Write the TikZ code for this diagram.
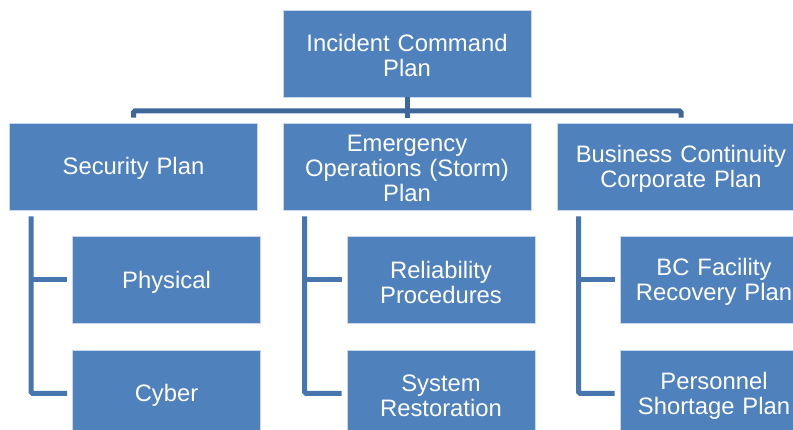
\documentclass[tikz,border=0pt]{standalone}
\usepackage{fontspec}
\setmainfont{Liberation Sans}
\definecolor{boxblue}{RGB}{79,129,189}
\definecolor{boxedge}{RGB}{200,215,235}
\definecolor{barblue}{RGB}{62,104,154}
\definecolor{connblue}{RGB}{71,117,174}
\tikzset{
  plan/.style={rectangle, fill=boxblue, draw=boxedge, line width=0.6pt, text=white, align=center,
    inner sep=0pt, minimum height=87pt, text height=21.5pt, font=\fontsize{23.8}{25}\selectfont},
  wide/.style={plan, minimum width=248pt, text width=240pt},
  narrow/.style={plan, minimum width=188pt, text width=184pt},
  bar/.style={draw=barblue, line width=5pt, rounded corners=1.5pt},
  conn/.style={draw=connblue, line width=5pt, rounded corners=1.5pt}
}
\begin{document}
\begin{tikzpicture}[x=1pt,y=-1pt]
\useasboundingbox (0,0) rectangle (793,430);
\clip (0,0) rectangle (793,430);
\fill[white] (0,0) rectangle (793,430);
% level 1
\node[wide] (top) at (407,53.5) {Incident Command\\Plan};
% level 2
\node[wide] (sec) at (133.5,166.5) {Security Plan};
\node[wide, text height=19.5pt] (eme) at (407,166.5) {Emergency\\Operations (Storm)\\Plan};
\node[wide] (bus) at (681,166.5) {Business Continuity\\Corporate Plan};
% level 3
\node[narrow] (phy) at (166.5,280) {Physical};
\node[narrow] (cyb) at (166.5,393.5) {Cyber};
\node[narrow] (rel) at (441,280) {Reliability\\Procedures};
\node[narrow] (sys) at (441,393.5) {System\\Restoration};
\node[narrow] (bcf) at (714,280) {BC Facility\\Recovery Plan};
\node[narrow] (per) at (714,393.5) {Personnel\\Shortage Plan};
% top bar
\coordinate (barline) at (0,111);
\draw[bar] ([yshift=5pt]sec.north) |- (barline -| top.south) -| ([yshift=5pt]bus.north);
\draw[bar] (top.south) -- ([yshift=5pt]eme.north);
% level 3 connectors
\foreach \p/\a/\b in {sec/phy/cyb, eme/rel/sys, bus/bcf/per}{
  \draw[conn] ([shift={(22,6)}]\p.south west) |- ([xshift=-5pt]\b.west);
  \draw[conn] ([xshift=22pt]\p.south west |- \a.west) -- ([xshift=-5pt]\a.west);
}
\end{tikzpicture}
\end{document}
